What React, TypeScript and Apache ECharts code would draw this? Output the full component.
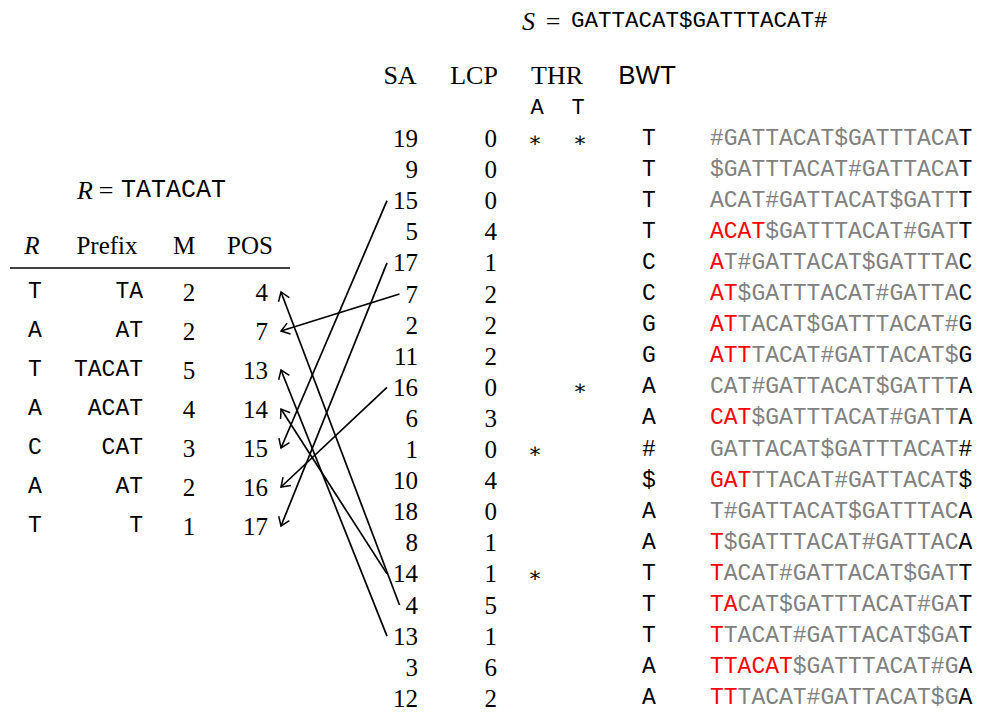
import React, { useEffect, useRef } from "react";
import * as echarts from "echarts";

// ---------- data ----------
const S_TEXT = "GATTACAT$GATTTACAT#";
const R_TEXT = "TATACAT";

const SA = [19, 9, 15, 5, 17, 7, 2, 11, 16, 6, 1, 10, 18, 8, 14, 4, 13, 3, 12];
const LCP = [0, 0, 0, 4, 1, 2, 2, 2, 0, 3, 0, 4, 0, 1, 1, 5, 1, 6, 2];
const THR_A_ROWS = [0, 10, 14];
const THR_T_ROWS = [0, 8];
const BWT = ["T", "T", "T", "T", "C", "C", "G", "G", "A", "A", "#", "$", "A", "A", "T", "T", "T", "A", "A"];
const ROTATIONS = [
  "#GATTACAT$GATTTACAT",
  "$GATTTACAT#GATTACAT",
  "ACAT#GATTACAT$GATTT",
  "ACAT$GATTTACAT#GATT",
  "AT#GATTACAT$GATTTAC",
  "AT$GATTTACAT#GATTAC",
  "ATTACAT$GATTTACAT#G",
  "ATTTACAT#GATTACAT$G",
  "CAT#GATTACAT$GATTTA",
  "CAT$GATTTACAT#GATTA",
  "GATTACAT$GATTTACAT#",
  "GATTTACAT#GATTACAT$",
  "T#GATTACAT$GATTTACA",
  "T$GATTTACAT#GATTACA",
  "TACAT#GATTACAT$GATT",
  "TACAT$GATTTACAT#GAT",
  "TTACAT#GATTACAT$GAT",
  "TTACAT$GATTTACAT#GA",
  "TTTACAT#GATTACAT$GA",
];
const MATCH_LEN = [0, 0, 0, 4, 1, 2, 2, 3, 0, 3, 0, 3, 0, 1, 1, 2, 1, 6, 2];

const R_CHARS = ["T", "A", "T", "A", "C", "A", "T"];
const PREFIX = ["TA", "AT", "TACAT", "ACAT", "CAT", "AT", "T"];
const M_VALS = [2, 2, 5, 4, 3, 2, 1];
const POS = [4, 7, 13, 14, 15, 16, 17];

// ---------- layout ----------
const W = 984;
const H = 713;
const R_ROW0 = 138.5;
const R_ROW_H = 31.1;
const L_ROW0 = 292;
const L_ROW_H = 39;
const SERIF = "'Liberation Serif', 'DejaVu Serif', serif";
const MONO = "'Liberation Mono', 'DejaVu Sans Mono', monospace";
const SANS = "'Liberation Sans', Arial, sans-serif";
const GRAY = "#808080";

const rY = (i: number) => R_ROW0 + i * R_ROW_H;
const lY = (i: number) => L_ROW0 + i * L_ROW_H;

function textSeries(id: string, points: number[][], texts: string[], style: any) {
  return {
    type: "custom",
    id,
    coordinateSystem: "cartesian2d",
    silent: true,
    clip: false,
    data: points,
    renderItem: (params: any, api: any) => {
      const p = api.coord([api.value(0), api.value(1)]);
      return {
        type: "text",
        x: p[0],
        y: p[1],
        style: {
          fill: "#000",
          verticalAlign: "middle",
          ...style,
          text: texts[params.dataIndex],
        },
      };
    },
  };
}

function buildOption() {
  const series: any[] = [];
  // right table
  series.push(
    textSeries("sa", SA.map((_, i) => [418, rY(i)]), SA.map(String), {
      fontSize: 25, fontFamily: SERIF, align: "right",
    })
  );
  series.push(
    textSeries("lcp", LCP.map((_, i) => [497, rY(i)]), LCP.map(String), {
      fontSize: 25, fontFamily: SERIF, align: "right",
    })
  );
  series.push(
    textSeries("thrA", THR_A_ROWS.map((i) => [535, rY(i) + 1]), THR_A_ROWS.map(() => "∗"), {
      fontSize: 21, fontFamily: "'DejaVu Serif', serif", align: "center",
    })
  );
  series.push(
    textSeries("thrT", THR_T_ROWS.map((i) => [580, rY(i) + 1]), THR_T_ROWS.map(() => "∗"), {
      fontSize: 21, fontFamily: "'DejaVu Serif', serif", align: "center",
    })
  );
  series.push(
    textSeries("bwt", BWT.map((_, i) => [649, rY(i)]), BWT, {
      fontSize: 23, fontFamily: MONO, align: "center",
    })
  );
  const richTexts = ROTATIONS.map((rot, i) => {
    const body = rot.slice(0, rot.length - 1);
    const red = body.slice(0, MATCH_LEN[i]);
    const gray = body.slice(MATCH_LEN[i]);
    let s = "";
    if (red) s += `{r|${red}}`;
    if (gray) s += `{g|${gray}}`;
    s += `{k|${BWT[i]}}`;
    return s;
  });
  const richBase = { fontSize: 23, fontFamily: MONO };
  series.push(
    textSeries("rot", ROTATIONS.map((_, i) => [710, rY(i)]), richTexts, {
      fontSize: 23, fontFamily: MONO, align: "left",
      rich: {
        r: { ...richBase, fill: "#ff0000" },
        g: { ...richBase, fill: GRAY },
        k: { ...richBase, fill: "#000" },
      },
    })
  );
  // left table
  series.push(
    textSeries("rc", R_CHARS.map((_, i) => [35, lY(i)]), R_CHARS, {
      fontSize: 23, fontFamily: MONO, align: "center",
    })
  );
  series.push(
    textSeries("prefix", PREFIX.map((_, i) => [143, lY(i)]), PREFIX, {
      fontSize: 23, fontFamily: MONO, align: "right",
    })
  );
  series.push(
    textSeries("m", M_VALS.map((_, i) => [189, lY(i)]), M_VALS.map(String), {
      fontSize: 25, fontFamily: SERIF, align: "center",
    })
  );
  series.push(
    textSeries("pos", POS.map((_, i) => [268, lY(i)]), POS.map(String), {
      fontSize: 25, fontFamily: SERIF, align: "right",
    })
  );
  // arrows from SA rows to POS rows
  const arrowData = POS.map((p, i) => {
    const row = SA.indexOf(p);
    const digits = String(p).length;
    const x1 = 418 - digits * 12.5 - 6;
    return [x1, rY(row), 281, lY(i)];
  });
  series.push({
    type: "custom",
    id: "arrows",
    coordinateSystem: "cartesian2d",
    silent: true,
    clip: false,
    data: arrowData,
    renderItem: (_params: any, api: any) => {
      const a = api.coord([api.value(0), api.value(1)]);
      const b = api.coord([api.value(2), api.value(3)]);
      const dx = a[0] - b[0];
      const dy = a[1] - b[1];
      const len = Math.sqrt(dx * dx + dy * dy);
      const ux = dx / len;
      const uy = dy / len;
      const L = 10;
      const th = (35 * Math.PI) / 180;
      const rot = (ang: number) => [
        b[0] + L * (ux * Math.cos(ang) - uy * Math.sin(ang)),
        b[1] + L * (ux * Math.sin(ang) + uy * Math.cos(ang)),
      ];
      return {
        type: "group",
        children: [
          {
            type: "line",
            shape: { x1: a[0], y1: a[1], x2: b[0], y2: b[1] },
            style: { stroke: "#000", lineWidth: 1.7 },
          },
          {
            type: "polyline",
            shape: { points: [rot(th), b, rot(-th)] },
            style: { stroke: "#000", lineWidth: 1.5, fill: null },
          },
        ],
      };
    },
  });

  const txt = (text: string, x: number, y: number, extra: any = {}) => ({
    type: "text",
    x,
    y,
    silent: true,
    style: {
      text,
      fill: "#000",
      fontSize: 25,
      fontFamily: SERIF,
      align: "center",
      verticalAlign: "middle",
      ...extra,
    },
  });

  const graphic: any[] = [
    // S = ... title
    txt("S", 522, 21, { align: "left", fontStyle: "italic", fontSize: 26 }),
    txt("=", 553, 21, { fontSize: 26 }),
    txt(S_TEXT, 571, 21, { align: "left", fontFamily: MONO, fontSize: 22.5 }),
    // R = ... title
    txt("R", 77, 190, { align: "left", fontStyle: "italic", fontSize: 26 }),
    txt("=", 106, 190, { fontSize: 26 }),
    txt(R_TEXT, 121, 190, { align: "left", fontFamily: MONO, fontSize: 25 }),
    // right headers
    txt("SA", 400, 75, { fontSize: 26 }),
    txt("LCP", 474, 75, { fontSize: 26 }),
    txt("THR", 557, 75, { fontSize: 26 }),
    txt("BWT", 647, 75, { fontFamily: SANS, fontSize: 26 }),
    txt("A", 537, 108, { fontFamily: MONO, fontSize: 22 }),
    txt("T", 578, 108, { fontFamily: MONO, fontSize: 22 }),
    // left headers
    txt("R", 32, 245, { fontStyle: "italic" }),
    txt("Prefix", 107, 245),
    txt("M", 184, 245),
    txt("POS", 250, 245),
    {
      type: "line",
      silent: true,
      shape: { x1: 10, y1: 268, x2: 290, y2: 268 },
      style: { stroke: "#000", lineWidth: 1.5 },
    },
  ];

  return {
    animation: false,
    backgroundColor: "#fff",
    grid: { left: 0, right: 0, top: 0, bottom: 0 },
    xAxis: { type: "value", min: 0, max: W, show: false },
    yAxis: { type: "value", min: 0, max: H, inverse: true, show: false },
    series,
    graphic,
  };
}

export default function App() {
  const ref = useRef<HTMLDivElement>(null);
  useEffect(() => {
    const chart = echarts.init(ref.current!, null, { renderer: "svg" });
    chart.setOption(buildOption() as any);
    return () => chart.dispose();
  }, []);
  return (
    <div
      ref={ref}
      style={{ position: "fixed", left: 0, top: 0, width: W, height: H, background: "#fff" }}
    />
  );
}
